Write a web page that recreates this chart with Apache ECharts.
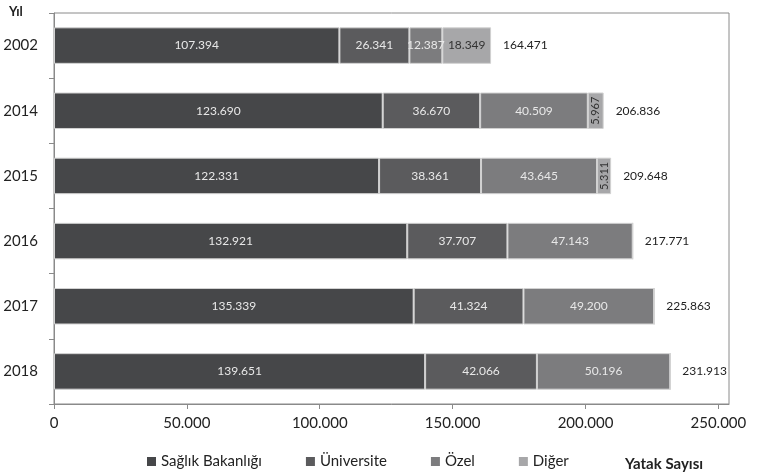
<!DOCTYPE html>
<html>
<head>
<meta charset="utf-8">
<script src="https://cdn.jsdelivr.net/npm/echarts@6/dist/echarts.min.js"></script>
<style>
  html, body { margin: 0; padding: 0; background: #fff; }
  #chart { width: 761px; height: 475px; }
</style>
</head>
<body>
<div id="chart"></div>
<script>
// veriler
const years = ['2002', '2014', '2015', '2016', '2017', '2018'];
const saglik = [107394, 123690, 122331, 132921, 135339, 139651];
const universite = [26341, 36670, 38361, 37707, 41324, 42066];
const ozel = [12387, 40509, 43645, 47143, 49200, 50196];
const diger = [18349, 5967, 5311, 0, 0, 0];
const totals = [164471, 206836, 209648, 217771, 225863, 231913];
const xTicks = [0, 50000, 100000, 150000, 200000, 250000];

const FONT = 'Lato';
const fmt = v => String(v).replace(/\B(?=(\d{3})+(?!\d))/g, '.');

const chart = echarts.init(document.getElementById('chart'));

function segment(name, data, color, labelColor) {
    return {
        name: name,
        type: 'bar',
        stack: 'total',
        barWidth: '56%',
        itemStyle: { color: color, borderColor: '#d2d2d2', borderWidth: 1 },
        label: {
            show: true,
            position: 'inside',
            color: labelColor,
            fontFamily: FONT,
            fontSize: 12,
            formatter: p => (p.value ? fmt(p.value) : '')
        },
        data: data.map(v => {
            // dar dilimler için dikey etiket
            if (v > 0 && v < 10000) {
                return { value: v, label: { rotate: 90, fontSize: 11 } };
            }
            return v;
        })
    };
}

chart.setOption({
    animation: false,
    textStyle: { fontFamily: FONT },
    title: [
        { text: 'Yıl', left: 4, top: 0, textStyle: { fontFamily: FONT, fontSize: 13, fontWeight: 'bold', color: '#222' } },
        { text: 'Yatak Sayısı', left: 620, top: 452, textStyle: { fontFamily: FONT, fontSize: 15, fontWeight: 'bold', color: '#222' } }
    ],
    legend: {
        data: ['Sağlık Bakanlığı', 'Üniversite', 'Özel', 'Diğer'],
        left: 142,
        top: 449,
        itemWidth: 9,
        itemHeight: 9,
        itemGap: 44,
        icon: 'rect',
        itemStyle: { borderWidth: 0 },
        textStyle: { fontFamily: FONT, fontSize: 15, color: '#222' }
    },
    grid: {
        left: 54,
        right: 32,
        top: 13,
        bottom: 71,
        show: true,
        borderColor: '#8a8a8a',
        borderWidth: 1,
        backgroundColor: 'transparent'
    },
    xAxis: {
        type: 'value',
        min: 0,
        max: 254000,
        splitLine: { show: false },
        axisLine: { show: true, lineStyle: { color: '#8a8a8a' } },
        axisTick: { show: true, length: 5, customValues: xTicks, lineStyle: { color: '#8a8a8a' } },
        axisLabel: {
            customValues: xTicks,
            color: '#222',
            fontFamily: FONT,
            fontSize: 15,
            margin: 12,
            formatter: v => fmt(v)
        }
    },
    yAxis: {
        type: 'category',
        data: years,
        inverse: true,
        axisLine: { lineStyle: { color: '#8a8a8a' } },
        axisTick: { show: true, length: 5, lineStyle: { color: '#8a8a8a' } },
        axisLabel: { color: '#222', fontFamily: FONT, fontSize: 15, margin: 16 }
    },
    series: [
        segment('Sağlık Bakanlığı', saglik, '#464749', '#e8e8e8'),
        segment('Üniversite', universite, '#5b5b5d', '#e8e8e8'),
        segment('Özel', ozel, '#7c7c7e', '#e8e8e8'),
        segment('Diğer', diger, '#a7a7a9', '#333'),
        {
            name: 'Toplam',
            type: 'bar',
            barWidth: '56%',
            barGap: '-100%',
            itemStyle: { color: 'rgba(0,0,0,0)' },
            label: {
                show: true,
                position: 'right',
                distance: 12,
                color: '#222',
                fontFamily: FONT,
                fontSize: 12,
                formatter: p => fmt(p.value)
            },
            silent: true,
            z: 1,
            data: totals
        }
    ]
});
</script>
</body>
</html>
